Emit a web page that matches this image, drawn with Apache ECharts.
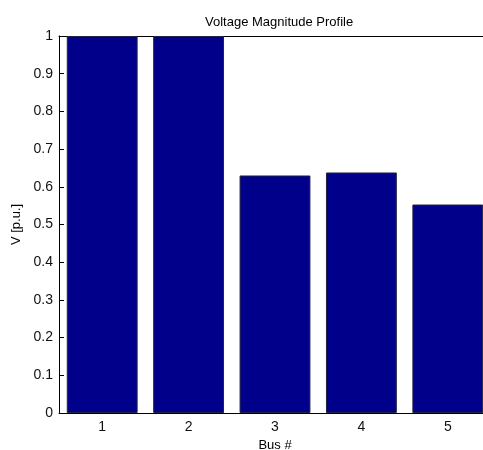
<!DOCTYPE html>
<html>
<head>
<meta charset="utf-8">
<script src="https://cdn.jsdelivr.net/npm/echarts@6/dist/echarts.min.js"></script>
<style>
  html, body { margin: 0; padding: 0; background: #fff; }
  #chart { width: 483px; height: 450px; }
</style>
</head>
<body>
<div id="chart"></div>
<script>
// bus numbers and per-unit voltages
const buses = ['1', '2', '3', '4', '5']
const voltages = [1.0, 1.0, 0.63, 0.638, 0.553]

const font = 'Liberation Sans, Arial, sans-serif'

const chart = echarts.init(document.getElementById('chart'))

const option = {
  animation: false,
  backgroundColor: '#fff',
  title: {
    text: 'Voltage Magnitude Profile',
    left: 200,
    top: 11,
    textStyle: { fontFamily: font, fontSize: 13, fontWeight: 'normal', color: '#000' }
  },
  // plot box runs past the right edge of the picture, like the cropped original
  grid: {
    left: 59,
    top: 36,
    width: 432,
    bottom: 37,
    outerBoundsMode: 'none'
  },
  xAxis: [
    {
      type: 'category',
      data: buses,
      position: 'bottom',
      name: 'Bus #',
      nameLocation: 'middle',
      nameGap: 26,
      nameTextStyle: { fontFamily: font, fontSize: 13, color: '#000' },
      axisLine: { lineStyle: { color: '#000', width: 1 } },
      axisTick: { inside: true, alignWithLabel: true, length: 5, lineStyle: { color: '#000' } },
      axisLabel: { fontFamily: font, fontSize: 14, color: '#111', margin: 7 },
      splitLine: { show: false }
    },
    {
      type: 'category',
      data: buses,
      position: 'top',
      axisLine: { lineStyle: { color: '#000', width: 1 } },
      axisTick: { inside: true, alignWithLabel: true, length: 5, lineStyle: { color: '#000' } },
      axisLabel: { show: false },
      splitLine: { show: false }
    }
  ],
  yAxis: {
    type: 'value',
    min: 0,
    max: 1,
    interval: 0.1,
    name: 'V [p.u.]',
    nameLocation: 'middle',
    nameRotate: 90,
    nameGap: 34,
    nameTextStyle: { fontFamily: font, fontSize: 13, color: '#000' },
    axisLine: { show: true, lineStyle: { color: '#000', width: 1 } },
    axisTick: { show: true, inside: true, length: 5, lineStyle: { color: '#000' } },
    axisLabel: { fontFamily: font, fontSize: 14, color: '#111', margin: 6 },
    splitLine: { show: false }
  },
  series: [
    {
      type: 'bar',
      data: voltages,
      barWidth: '82%',
      itemStyle: {
        color: '#00008b',
        borderColor: '#222244',
        borderWidth: 1
      },
      z: 1
    }
  ]
}

chart.setOption(option)
</script>
</body>
</html>
